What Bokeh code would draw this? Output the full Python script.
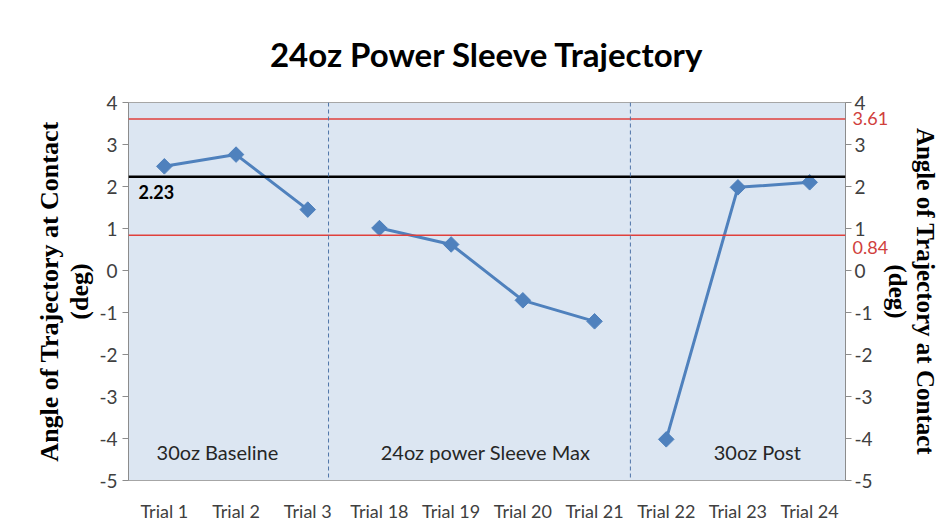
from bokeh.plotting import figure
from bokeh.models import (FactorRange, Range1d, LinearAxis, Span, Label,
                          FixedTicker, ColumnDataSource)
from bokeh.embed import file_html
from bokeh.resources import INLINE
import math

# ---- data ----
trials = ["Trial 1", "Trial 2", "Trial 3", "Trial 18", "Trial 19",
          "Trial 20", "Trial 21", "Trial 22", "Trial 23", "Trial 24"]
angles = [2.48, 2.76, 1.45, 1.01, 0.62, -0.71, -1.21, -4.02, 1.98, 2.10]
groups = [(0, 3), (3, 7), (7, 10)]          # index ranges of connected runs
group_names = ["30oz Baseline", "24oz power Sleeve Max", "30oz Post"]
group_label_x = [1.24, 4.98, 8.77]
divider_x = [2.79, 7.0]
upper_limit = 3.61
lower_limit = 0.84
mean_value = 2.23
y_ticks = [-5, -4, -3, -2, -1, 0, 1, 2, 3, 4]
title_text = "24oz Power Sleeve Trajectory"
y_title = "Angle of Trajectory at Contact\n(deg)"

BLUE = "#4f81bd"
RED_LINE = "#e0403c"
RED_TEXT = "#d0403c"
AXIS = "#8c8c8c"
TICKTXT = "#404040"

W, H = 945, 527
FL, FR, FT, FB = 128, 845, 102, 480   # frame edges in page pixels

p = figure(x_range=FactorRange(*trials), y_range=Range1d(-5, 4),
           width=W, height=H, output_backend="svg",
           toolbar_location=None,
           min_border_left=FL, min_border_right=W - FR,
           min_border_top=FT, min_border_bottom=H - FB)
p.background_fill_color = "#dce6f2"
p.border_fill_color = "white"
p.outline_line_color = "#a6a6a6"
p.grid.visible = False

# title
p.title.text = title_text
p.title.align = "center"
p.title.text_font = "Lato"
p.title.text_font_style = "bold"
p.title.text_font_size = "33px"
p.title.text_color = "black"
p.title.standoff = 58

tick_over = {t: str(t) for t in y_ticks}


def style_numeric(ax):
    ax.ticker = FixedTicker(ticks=y_ticks)
    ax.major_label_overrides = tick_over
    ax.axis_line_color = AXIS
    ax.major_tick_line_color = AXIS
    ax.major_tick_out = 6
    ax.major_tick_in = 0
    ax.minor_tick_line_color = None
    ax.major_label_text_font = "Lato"
    ax.major_label_text_font_size = "19px"
    ax.major_label_text_color = TICKTXT


def style_title(ax, size):
    ax.axis_label = y_title
    ax.axis_label_text_font = "Liberation Serif"
    ax.axis_label_text_font_style = "bold"
    ax.axis_label_text_font_size = size
    ax.axis_label_text_color = "black"
    ax.axis_label_text_line_height = 1.05


# left axis
style_numeric(p.yaxis[0])
p.yaxis[0].major_label_standoff = 5
style_title(p.yaxis[0], "26px")
p.yaxis[0].axis_label_standoff = 2

# right numeric axis
ry = LinearAxis()
style_numeric(ry)
ry.major_label_standoff = 3
p.add_layout(ry, "right")

# right axis carrying the red limit labels and the axis title
lim_pos = [upper_limit, round(lower_limit - 0.3, 2)]
ra = LinearAxis(ticker=FixedTicker(ticks=lim_pos),
                major_label_overrides={lim_pos[0]: f"{upper_limit:.2f}",
                                       lim_pos[1]: f"{lower_limit:.2f}"})
ra.axis_line_color = None
ra.major_tick_line_color = None
ra.minor_tick_line_color = None
ra.major_tick_out = 0
ra.major_tick_in = 0
ra.major_label_standoff = -23
ra.major_label_text_font = "Lato"
ra.major_label_text_font_size = "18px"
ra.major_label_text_color = RED_TEXT
style_title(ra, "25px")
ra.axis_label_standoff = -7
p.add_layout(ra, "right")

# x axis
p.xaxis.axis_line_color = None
p.xaxis.major_tick_line_color = None
p.xaxis.minor_tick_line_color = None
p.xaxis.major_tick_out = 0
p.xaxis.major_label_text_font = "Lato"
p.xaxis.major_label_text_font_size = "18px"
p.xaxis.major_label_text_color = TICKTXT
p.xaxis.major_label_standoff = 19

# reference lines
for v in (upper_limit, lower_limit):
    p.add_layout(Span(location=v, dimension="width", line_color=RED_LINE,
                      line_width=1.5))
p.add_layout(Span(location=mean_value, dimension="width", line_color="black",
                  line_width=2.5))
for xd in divider_x:
    p.add_layout(Span(location=xd, dimension="height", line_color="#4f74a8",
                      line_width=1, line_dash="4 3"))

# data line (broken between phases)
for (a, b) in groups:
    src = ColumnDataSource(dict(x=trials[a:b], y=angles[a:b]))
    p.line("x", "y", source=src, line_color=BLUE, line_width=3)
    p.scatter("x", "y", source=src, marker="square", size=11,
              angle=math.pi / 4, fill_color=BLUE, line_color=BLUE)

# phase labels
for name, gx in zip(group_names, group_label_x):
    p.add_layout(Label(x=gx, y=-4.33, text=name, text_font="Lato",
                       text_font_size="20px", text_color="#262626",
                       text_align="center", text_baseline="middle"))

# mean value label
p.add_layout(Label(x=0.14, y=mean_value, text=f"{mean_value:.2f}",
                   text_font="Lato", text_font_style="bold",
                   text_font_size="18px", text_color="black",
                   text_align="left", text_baseline="top", y_offset=-8))

open("out.html", "w").write(file_html(p, INLINE))
